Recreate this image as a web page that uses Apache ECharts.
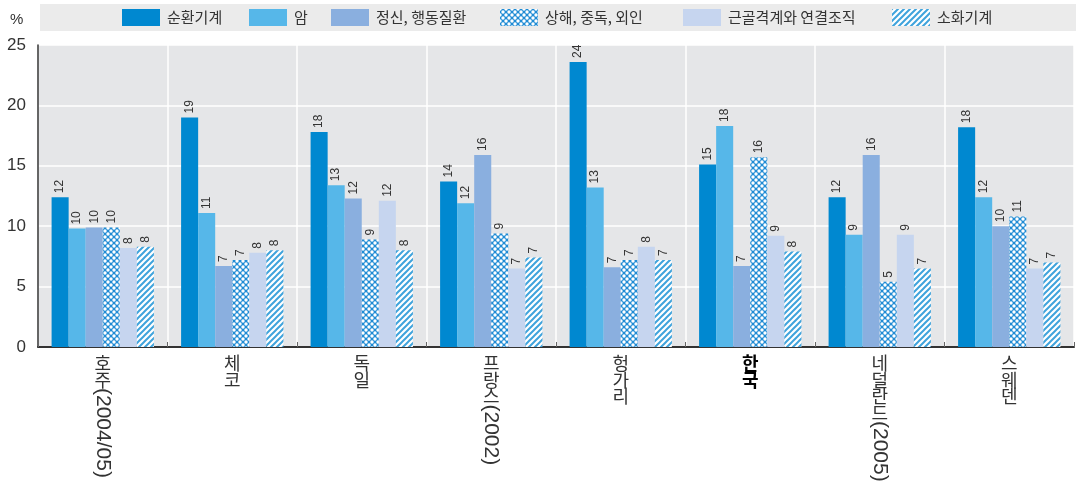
<!DOCTYPE html>
<html><head><meta charset="utf-8">
<script src="https://cdn.jsdelivr.net/npm/echarts@6/dist/echarts.min.js"></script>
<style>html,body{margin:0;padding:0;background:#fff}#c{width:1076px;height:489px}</style>
</head><body><div id="c"></div>
<script>
const countries = ['호주', '체코', '독일', '프랑스', '헝가리', '한국', '네덜란드', '스웨덴'];
const countrySuffix = ['(2004/05)', '', '', '(2002)', '', '', '(2005)', ''];
const seriesNames = ['순환기계', '암', '정신, 행동질환', '상해, 중독, 외인', '근골격계와 연결조직', '소화기계'];
const circulatory = [12.4, 19.0, 17.8, 13.7, 23.6, 15.1, 12.4, 18.2];
const cancer = [9.8, 11.1, 13.4, 11.9, 13.2, 18.3, 9.3, 12.4];
const mental = [9.9, 6.7, 12.3, 15.9, 6.6, 6.7, 15.9, 10.0];
const injury = [9.9, 7.2, 8.9, 9.4, 7.2, 15.7, 5.4, 10.8];
const musculo = [8.2, 7.8, 12.1, 6.5, 8.3, 9.2, 9.3, 6.5];
const digestive = [8.3, 8.0, 8.0, 7.4, 7.2, 7.9, 6.5, 7.0];
const yTicks = [0, 5, 10, 15, 20, 25];

function crossPattern() {
  const c = document.createElement('canvas'); c.width = 6; c.height = 6;
  const g = c.getContext('2d');
  g.fillStyle = '#1f8bd4'; g.fillRect(0, 0, 6, 6);
  g.fillStyle = '#ffffff';
  [[0,0],[6,0],[0,6],[6,6],[3,3]].forEach(p => { g.beginPath(); g.arc(p[0], p[1], 1.7, 0, Math.PI*2); g.fill(); });
  return { image: c, repeat: 'repeat' };
}
function stripePattern() {
  const c = document.createElement('canvas'); c.width = 6; c.height = 6;
  const g = c.getContext('2d');
  g.fillStyle = '#ffffff'; g.fillRect(0, 0, 6, 6);
  g.strokeStyle = '#3fa3dc'; g.lineWidth = 2;
  g.beginPath();
  g.moveTo(-1, 1); g.lineTo(1, -1);
  g.moveTo(0, 6); g.lineTo(6, 0);
  g.moveTo(5, 7); g.lineTo(7, 5);
  g.stroke();
  return { image: c, repeat: 'repeat' };
}

const seriesData = [circulatory, cancer, mental, injury, musculo, digestive];
const seriesColors = ['#0088d0', '#56b7e9', '#8aafdf', crossPattern(), '#c6d5ef', stripePattern()];
const legendLeft = [122, 249, 331, 500, 683, 892];
const FONT_KR = '"Noto Sans CJK KR", sans-serif';
const FONT_NUM = '"Liberation Sans", Arial, sans-serif';
const LH = 16.5;

const chart = echarts.init(document.getElementById('c'), null, { renderer: 'canvas' });
const option = {
  animation: false,
  textStyle: { fontFamily: FONT_KR },
  graphic: [
    { type: 'rect', shape: { x: 40, y: 4, width: 1036, height: 27 }, style: { fill: '#ebebeb' }, z: -10, silent: true },
    { type: 'text', left: 10, top: 12, style: { text: '%', font: '15px ' + FONT_NUM, fill: '#333' } }
  ],
  legend: seriesNames.map((n, i) => ({
    top: 4, left: legendLeft[i] - 5, itemWidth: 38, itemHeight: 17,
    icon: 'rect', data: [n],
    formatter: name => '{a|' + name + '}',
    textStyle: {
      fontSize: 15, color: '#333', fontFamily: FONT_KR,
      rich: { a: { fontSize: 15, color: '#333', fontFamily: FONT_KR, padding: [0, 0, 0, 2] } }
    }
  })),
  grid: { left: 38, right: 2, top: 45, bottom: 142, show: true, backgroundColor: '#e5e6e8', borderWidth: 0 },
  xAxis: [
    {
      type: 'category', data: countries,
      axisLine: { lineStyle: { color: '#333', width: 2 } },
      axisTick: { show: true, inside: true, length: 5, lineStyle: { color: '#666' } },
      splitLine: { show: true, lineStyle: { color: '#fff', width: 1.5 } },
      axisLabel: {
        interval: 0, margin: 8,
        fontSize: 18, lineHeight: LH, color: '#333', fontFamily: FONT_KR,
        formatter: function (v) {
          if (v === '한국') return v.split('').map(ch => '{b|' + ch + '}').join('\n');
          return v.split('').join('\n');
        },
        rich: { b: { fontSize: 18, lineHeight: LH, fontWeight: 'bold', color: '#000', fontFamily: FONT_KR } }
      }
    },
    {
      type: 'category', data: countries, position: 'bottom',
      axisLine: { show: false }, axisTick: { show: false }, splitLine: { show: false },
      axisLabel: {
        interval: 0, margin: 8, rotate: -90,
        color: '#333', fontSize: 21, fontFamily: FONT_NUM,
        formatter: function (v, i) {
          const s = countrySuffix[i];
          if (!s) return '';
          return '{p' + countries[i].length + '|' + s + '}';
        },
        rich: {
          p2: { fontSize: 21, color: '#333', fontFamily: FONT_NUM, padding: [0, 0, 0, 2 * LH] },
          p3: { fontSize: 21, color: '#333', fontFamily: FONT_NUM, padding: [0, 0, 0, 3 * LH] },
          p4: { fontSize: 21, color: '#333', fontFamily: FONT_NUM, padding: [0, 0, 0, 4 * LH] }
        }
      }
    }
  ],
  yAxis: {
    type: 'value', min: 0, max: 25, interval: 5,
    axisLine: { show: true, lineStyle: { color: '#333', width: 1.5 } },
    axisTick: { show: false },
    splitLine: { lineStyle: { color: '#fff', width: 1.5 } },
    axisLabel: {
      fontSize: 17, color: '#333', fontFamily: FONT_NUM, margin: 12,
      formatter: function (v) { return yTicks.indexOf(v) >= 0 ? String(v) : ''; }
    }
  },
  series: seriesNames.map((name, k) => ({
    name: name, type: 'bar', xAxisIndex: 0,
    data: seriesData[k],
    barGap: '0%', barCategoryGap: '21%',
    itemStyle: { color: seriesColors[k] },
    emphasis: { disabled: true },
    label: {
      show: true, position: 'top', rotate: 90, align: 'left', verticalAlign: 'middle', distance: 4,
      fontSize: 12, color: '#333', fontFamily: FONT_NUM,
      formatter: p => String(Math.round(p.value))
    }
  }))
};
chart.setOption(option);
</script>
</body></html>
